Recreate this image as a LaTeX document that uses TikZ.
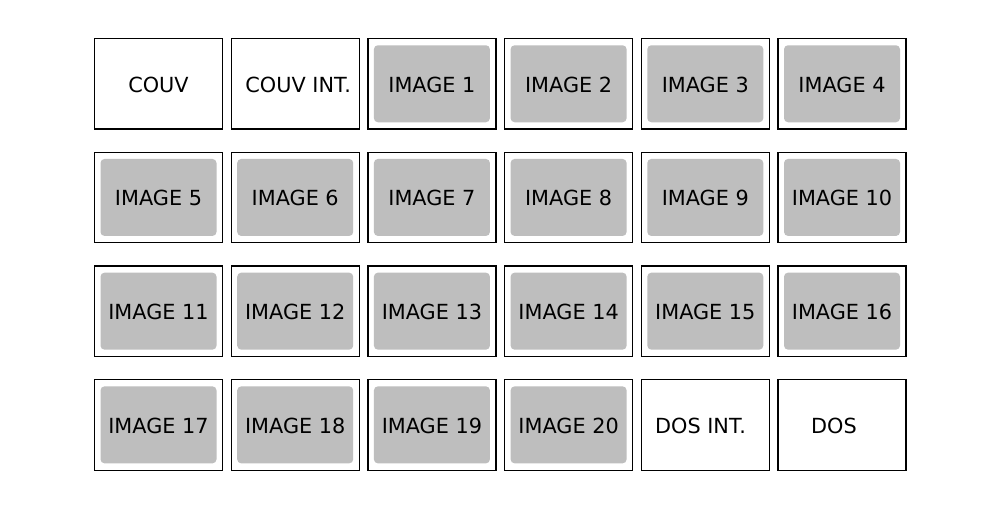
\documentclass[tikz,border=0pt]{standalone}
\usepackage{fontspec}
\setmainfont{DejaVu Sans}
\definecolor{imggray}{RGB}{190,190,190}
\begin{document}
\begin{tikzpicture}[x=1pt,y=-1pt,
  page/.style={draw=black, line width=1.2pt, fill=white, minimum width=128pt, minimum height=90.5pt, inner sep=0pt, outer sep=0pt},
  photo/.style={fill=imggray, rounded corners=4pt, minimum width=116pt, minimum height=77pt, inner sep=0pt},
  lbl/.style={font=\fontsize{20.8}{24}\selectfont, inner sep=0pt}]
\useasboundingbox (0,0) rectangle (1000,506);
% white pages
\node[page] (couv) at (158.5,83.75) {};
\node[lbl] (couvtxt) at (158.5,84.6) {COUV};
\node[page] (couvint) at (295.2,83.75) {};
\node[lbl] (couvinttxt) at (298.2,84.6) {COUV INT.};
\node[page] (dosint) at (705.3,424.85) {};
\node[lbl] (dosinttxt) at (700.5,425.7) {DOS INT.};
\node[page] (dos) at (842,424.85) {};
\node[lbl] (dostxt) at (834,425.7) {DOS};
% image pages
\foreach \n in {1,...,20}{
  \pgfmathtruncatemacro{\k}{\n+1}
  \pgfmathtruncatemacro{\r}{int(\k/6)}
  \pgfmathtruncatemacro{\c}{mod(\k,6)}
  \pgfmathsetmacro{\px}{158.5+136.7*\c}
  \pgfmathsetmacro{\py}{83.75+113.7*\r}
  \pgfmathsetmacro{\ty}{\py+0.85}
  \node[page] (page\n) at (\px,\py) {};
  \node[photo] (img\n) at (page\n.center) {};
  \node[lbl] (txt\n) at (\px,\ty) {IMAGE \n};
}
\end{tikzpicture}
\end{document}
